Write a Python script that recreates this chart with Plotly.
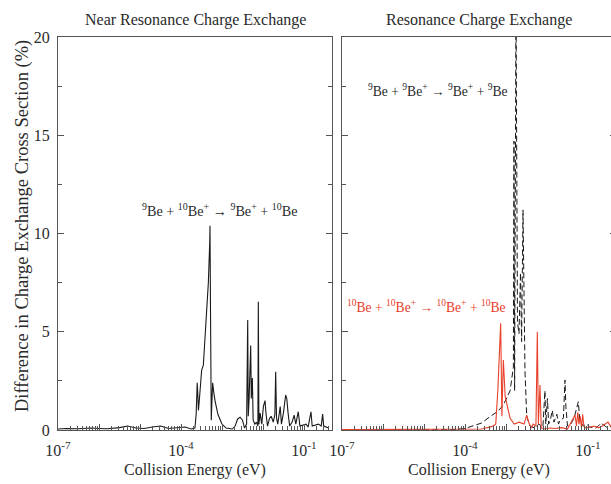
import numpy as np
import plotly.graph_objects as go

# ---------------- data (log10 of collision energy in eV, difference in %) ----------------
near_logE = [-7.0, -6.8, -6.5, -6.2, -6.0, -5.8, -5.5, -5.3, -5.1, -4.9, -4.7, -4.5, -4.3, -4.1,
             -3.9, -3.75, -3.66, -3.63, -3.605, -3.59, -3.575, -3.55, -3.52, -3.496, -3.455,
             -3.42, -3.374, -3.333, -3.30, -3.293, -3.28, -3.262, -3.245, -3.228, -3.2, -3.171,
             -3.1, -3.0, -2.9, -2.75, -2.68, -2.62, -2.56, -2.5, -2.45, -2.40, -2.373, -2.36,
             -2.34, -2.30, -2.285, -2.26, -2.24, -2.2, -2.16, -2.125, -2.114, -2.10, -2.07,
             -2.03, -1.99, -1.951, -1.93, -1.89, -1.84, -1.80, -1.75, -1.71, -1.691, -1.67,
             -1.64, -1.58, -1.55, -1.50, -1.447, -1.42, -1.39, -1.35, -1.29, -1.24, -1.20,
             -1.14, -1.10, -1.02, -0.95, -0.90, -0.83, -0.80, -0.72, -0.65, -0.58, -0.545,
             -0.52, -0.45, -0.40]
near_diff = [0.05, 0.08, 0.06, 0.1, 0.08, 0.06, 0.12, 0.2, 0.1, 0.08, 0.15, 0.2, 0.08, 0.1,
             0.15, 0.05, 0.1, 0.8, 2.4, 1.8, 1.0, 1.6, 2.6, 3.05, 3.3,
             4.5, 6.1, 7.5, 9.5, 10.4, 6.0, 0.5, 1.5, 2.4, 1.9, 1.5,
             0.8, 0.3, 0.1, 0.05, 0.2, 0.55, 0.65, 0.5, 0.1, 0.3, 5.6, 0.7,
             1.5, 4.3, 1.6, 2.64, 0.5, 0.3, 0.4, 0.2, 6.53, 0.3, 0.86,
             0.3, 1.2, 1.5, 0.9, 0.2, 0.6, 0.7, 0.4, 0.8, 2.97, 0.6,
             0.3, 1.19, 0.3, 0.9, 1.78, 1.6, 0.9, 0.2, 0.4, 0.76, 0.3,
             0.93, 0.2, 0.25, 0.3, 0.15, 0.93, 0.2, 0.25, 0.3, 0.2, 0.81,
             0.2, 0.15, 0.1]

be9_logE = [-7.0, -5.0, -4.3, -4.0, -3.8, -3.6, -3.39, -3.2, -3.065, -2.9, -2.82, -2.805,
            -2.79, -2.756, -2.72, -2.683, -2.646, -2.62, -2.585, -2.537, -2.495, -2.415,
            -2.3, -2.2, -2.1, -2.05, -2.03, -1.99, -1.96, -1.92, -1.87, -1.83, -1.76, -1.72,
            -1.68, -1.60, -1.561, -1.54, -1.50, -1.42, -1.34, -1.236, -1.20, -1.12, -1.04,
            -0.96, -0.8, -0.68, -0.55, -0.40, -0.32]
be9_diff = [0.0, 0.0, 0.02, 0.08, 0.2, 0.35, 0.68, 0.95, 1.27, 2.0, 3.2, 14.7,
            2.0, 22.0, 5.5, 4.9, 8.0, 4.5, 11.2, 3.0, 0.68, 0.2,
            0.1, 0.3, 0.15, 2.0, 0.3, 1.6, 0.3, 0.5, 1.0, 0.4, 0.8, 0.3,
            0.5, 0.6, 2.54, 1.2, 0.2, 0.3, 0.6, 1.44, 0.5, 0.2, 0.3,
            0.15, 0.1, 0.35, 0.15, 0.2, 0.2]

be10_logE = [-7.0, -6.0, -5.0, -4.0, -3.6, -3.35, -3.25, -3.20, -3.13, -3.10, -3.065, -3.02,
             -2.97, -2.90, -2.80, -2.68, -2.56, -2.495, -2.44, -2.38, -2.34, -2.27, -2.236,
             -2.21, -2.171, -2.14, -2.05, -1.93, -1.80, -1.65, -1.50, -1.40, -1.317, -1.28,
             -1.25, -1.22, -1.19, -1.16, -1.13, -1.10, -1.05, -0.95, -0.85, -0.74, -0.65,
             -0.512, -0.45, -0.32]
be10_diff = [0.02, 0.02, 0.03, 0.02, 0.05, 0.17, 0.3, 2.0, 5.43, 0.7, 3.56, 1.7,
             1.2, 0.6, 0.3, 0.4, 0.3, 0.76, 0.35, 0.1, 0.3, 0.2, 5.0,
             0.3, 2.29, 0.1, 0.05, 0.1, 0.08, 0.12, 0.05, 0.4, 0.76, 0.2,
             0.9, 0.3, 0.7, 0.1, 0.8, 0.2, 0.1, 0.15, 0.2, 0.12, 0.2,
             0.4, 0.2, 0.25]

panel_titles = ["Near Resonance Charge Exchange", "Resonance Charge Exchange"]
x_title = "Collision Energy (eV)"
y_title = "Difference in Charge Exchange Cross Section (%)"
x_major = [-7, -6, -5, -4, -3, -2, -1]
x_labelled = [-7, -4, -1]
y_ticks = [0, 5, 10, 15, 20]

# ---------------- figure ----------------
FONT = "Liberation Serif"
TXT = "#2a2a2a"
AX = "#555555"
RED = "#e8402a"

W, H = 617, 484
ml, mr, mt, mb = 58, 1, 37, 54
pw = W - ml - mr
ph = H - mt - mb
panel_w = 274
gap = 10

fig = go.Figure()
fig.add_trace(go.Scatter(x=10 ** np.array(near_logE), y=near_diff, mode="lines",
                         line=dict(color="#1a1a1a", width=1.1), xaxis="x", yaxis="y",
                         showlegend=False))
fig.add_trace(go.Scatter(x=10 ** np.array(be9_logE), y=be9_diff, mode="lines",
                         line=dict(color="#1a1a1a", width=1.0, dash="6px,3px"),
                         xaxis="x2", yaxis="y2", showlegend=False))
fig.add_trace(go.Scatter(x=10 ** np.array(be10_logE), y=be10_diff, mode="lines",
                         line=dict(color=RED, width=1.1), xaxis="x2", yaxis="y2",
                         showlegend=False))

xr = [-7, -7 + panel_w / 41.0]
minor_vals = [m * 10.0 ** d for d in range(-7, 0) for m in range(2, 10)]
tickvals = [10.0 ** d for d in x_major]
ticktext = ["10<sup>%d</sup>" % d if d in x_labelled else "" for d in x_major]

def xaxis(domain, anchor):
    return dict(type="log", range=xr, domain=domain, anchor=anchor,
                showline=True, linecolor=AX, linewidth=1, mirror=True,
                showgrid=False, zeroline=False,
                tickvals=tickvals, ticktext=ticktext, ticks="inside", ticklen=6,
                tickcolor=AX, tickfont=dict(family=FONT, size=16, color=TXT),
                ticklabelstandoff=6,
                minor=dict(tickvals=minor_vals, ticks="inside", ticklen=4, tickcolor=AX,
                           showgrid=False))

def yaxis(anchor, labels):
    return dict(range=[0, 20], domain=[0, 1], anchor=anchor,
                showline=True, linecolor=AX, linewidth=1, mirror="ticks",
                showgrid=False, zeroline=False, tickvals=y_ticks,
                showticklabels=labels, ticks="inside", ticklen=6, tickcolor=AX,
                tickfont=dict(family=FONT, size=16, color=TXT),
                ticklabelstandoff=4,
                minor=dict(dtick=2.5, ticks="inside", ticklen=4, tickcolor=AX, showgrid=False))

d1 = [0, panel_w / pw]
d2 = [(panel_w + gap) / pw, 1]
fig.update_layout(
    width=W, height=H,
    margin=dict(l=ml, r=mr, t=mt, b=mb, pad=0),
    paper_bgcolor="white", plot_bgcolor="white",
    xaxis=xaxis(d1, "y"), yaxis=yaxis("x", True),
    xaxis2=xaxis(d2, "y2"), yaxis2=yaxis("x2", False),
    font=dict(family=FONT, color=TXT, size=16),
)

ann = []
centers = [(58 + 332) / 2, (342 + 616) / 2]
for i, c in enumerate(centers):
    cx = (c - ml) / pw
    ann.append(dict(text=panel_titles[i], x=cx, y=(430 - 20) / ph, xref="paper", yref="paper",
                    xanchor="center", yanchor="middle",
                    showarrow=False, font=dict(family=FONT, size=16, color=TXT)))
    ann.append(dict(text=x_title, x=cx, y=(430 - 470) / ph, xref="paper", yref="paper",
                    xanchor="center", yanchor="middle",
                    showarrow=False, font=dict(family=FONT, size=16, color=TXT)))
ann.append(dict(text=y_title, x=(22 - ml) / pw, y=(430 - 226) / ph, xref="paper", yref="paper",
                xanchor="center", yanchor="middle",
                textangle=-90, showarrow=False, font=dict(family=FONT, size=18.5, color=TXT)))
ann.append(dict(text="<sup>9</sup>Be + <sup>10</sup>Be<sup>+</sup> \u2192 <sup>9</sup>Be<sup>+</sup> + <sup>10</sup>Be",
                x=-3.04, y=11.2, xref="x", yref="y", showarrow=False,
                xanchor="center", yanchor="middle",
                font=dict(family=FONT, size=14.2, color=TXT)))
ann.append(dict(text="<sup>9</sup>Be + <sup>9</sup>Be<sup>+</sup> \u2192 <sup>9</sup>Be<sup>+</sup> + <sup>9</sup>Be",
                x=-4.66, y=17.3, xref="x2", yref="y2", showarrow=False,
                xanchor="center", yanchor="middle",
                font=dict(family=FONT, size=13.6, color=TXT)))
ann.append(dict(text="<sup>10</sup>Be + <sup>10</sup>Be<sup>+</sup> \u2192 <sup>10</sup>Be<sup>+</sup> + <sup>10</sup>Be",
                x=-4.93, y=6.26, xref="x2", yref="y2", showarrow=False,
                xanchor="center", yanchor="middle",
                font=dict(family=FONT, size=13.6, color=RED)))
fig.update_layout(annotations=ann)

fig.write_html("out.html",
               post_script="document.documentElement.style.overflow='hidden';document.body.style.overflow='hidden';document.body.style.margin='0';")
